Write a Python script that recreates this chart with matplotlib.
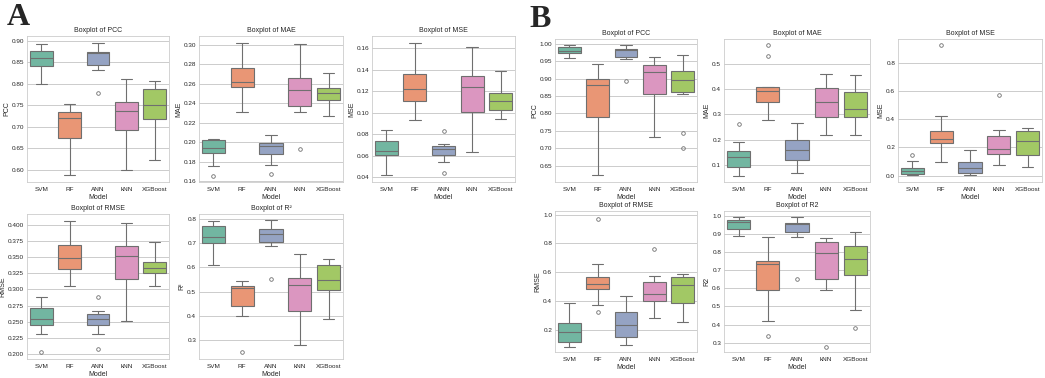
import colorsys

import matplotlib
matplotlib.use("Agg")
import matplotlib.pyplot as plt
import seaborn as sns

models = ["SVM", "RF", "ANN", "kNN", "XGBoost"]

# one row per model: (whisker low, q1, median, q3, whisker high, outliers)
a_pcc = [
    (0.800, 0.842, 0.859, 0.877, 0.892, []),
    (0.588, 0.675, 0.721, 0.735, 0.752, []),
    (0.831, 0.844, 0.871, 0.874, 0.894, [0.778]),
    (0.599, 0.692, 0.738, 0.758, 0.812, []),
    (0.624, 0.718, 0.750, 0.788, 0.807, []),
]
a_mae = [
    (0.175, 0.189, 0.194, 0.2017, 0.203, [0.1655]),
    (0.231, 0.2563, 0.2618, 0.2764, 0.302, []),
    (0.1767, 0.188, 0.196, 0.199, 0.2071, [0.1668]),
    (0.231, 0.2372, 0.2536, 0.2655, 0.3007, [0.1925]),
    (0.2273, 0.2437, 0.2505, 0.2556, 0.2706, []),
]
a_mse = [
    (0.0415, 0.0604, 0.0641, 0.074, 0.0842, []),
    (0.0935, 0.1105, 0.122, 0.1356, 0.165, []),
    (0.0542, 0.0601, 0.0657, 0.0688, 0.0709, [0.083, 0.0437]),
    (0.0632, 0.1006, 0.1235, 0.1346, 0.1615, []),
    (0.0944, 0.1025, 0.1108, 0.118, 0.139, []),
]
a_rmse = [
    (0.2304, 0.2446, 0.2542, 0.2719, 0.2886, [0.2035]),
    (0.3048, 0.3316, 0.3484, 0.3691, 0.4066, []),
    (0.2314, 0.2446, 0.2542, 0.2618, 0.2673, [0.2886, 0.2076]),
    (0.2511, 0.3165, 0.3524, 0.3671, 0.4025, []),
    (0.3058, 0.3261, 0.3327, 0.3428, 0.3732, []),
]
a_r2 = [
    (0.609, 0.700, 0.727, 0.769, 0.793, []),
    (0.400, 0.442, 0.514, 0.522, 0.545, [0.251]),
    (0.688, 0.703, 0.739, 0.759, 0.796, [0.551]),
    (0.280, 0.418, 0.526, 0.555, 0.657, []),
    (0.385, 0.508, 0.548, 0.608, 0.635, []),
]

b_pcc = [
    (0.959, 0.973, 0.979, 0.990, 0.995, []),
    (0.624, 0.789, 0.881, 0.900, 0.942, []),
    (0.956, 0.962, 0.983, 0.985, 0.995, [0.894]),
    (0.732, 0.855, 0.918, 0.9375, 0.962, []),
    (0.856, 0.860, 0.895, 0.922, 0.967, [0.744, 0.701]),
]
b_mae = [
    (0.057, 0.091, 0.131, 0.156, 0.191, [0.260]),
    (0.276, 0.348, 0.392, 0.408, 0.410, [0.532, 0.575]),
    (0.069, 0.121, 0.158, 0.200, 0.264, []),
    (0.219, 0.289, 0.350, 0.403, 0.460, []),
    (0.217, 0.291, 0.320, 0.387, 0.456, []),
]
b_mse = [
    (0.005, 0.014, 0.034, 0.053, 0.105, [0.149]),
    (0.096, 0.230, 0.263, 0.316, 0.426, [0.927]),
    (0.005, 0.019, 0.053, 0.098, 0.182, []),
    (0.077, 0.153, 0.192, 0.278, 0.323, [0.572]),
    (0.062, 0.146, 0.247, 0.319, 0.335, []),
]
b_rmse = [
    (0.078, 0.113, 0.186, 0.244, 0.388, []),
    (0.375, 0.485, 0.515, 0.570, 0.657, [0.322, 0.968]),
    (0.092, 0.152, 0.234, 0.322, 0.437, []),
    (0.283, 0.400, 0.446, 0.529, 0.572, [0.761]),
    (0.257, 0.388, 0.508, 0.570, 0.586, []),
]
b_r2 = [
    (0.890, 0.925, 0.963, 0.978, 0.991, []),
    (0.420, 0.591, 0.733, 0.750, 0.884, [0.335]),
    (0.884, 0.908, 0.952, 0.961, 0.991, [0.654]),
    (0.589, 0.654, 0.797, 0.856, 0.878, [0.278]),
    (0.483, 0.676, 0.764, 0.834, 0.912, [0.381]),
]

W, H = 1045, 378

sns.set_style("whitegrid")
plt.rcParams["font.family"] = ["Liberation Sans", "DejaVu Sans"]

colors = [sns.desaturate(c, 0.75) for c in sns.color_palette("Set2", 5)]
# seaborn-like line gray, a bit lighter to match the downscaled source
lum = min(colorsys.rgb_to_hls(*c)[1] for c in colors) * 0.75
gray = (lum, lum, lum)


def px_axes(fig, x0, x1, y0, y1):
    return fig.add_axes([x0 / W, 1 - y1 / H, (x1 - x0) / W, (y1 - y0) / H])


def draw_box(ax, rows, name, ylim, ylabel=None):
    stats = [
        dict(whislo=r[0], q1=r[1], med=r[2], q3=r[3], whishi=r[4], fliers=r[5])
        for r in rows
    ]
    lp = dict(color=gray, linewidth=0.8)
    parts = ax.bxp(
        stats, positions=range(len(rows)), widths=0.8, patch_artist=True,
        boxprops=dict(edgecolor=gray, linewidth=0.8),
        whiskerprops=lp, capprops=lp, medianprops=lp,
        flierprops=dict(marker="o", markersize=2.6, markerfacecolor="none",
                        markeredgecolor=gray, markeredgewidth=0.6),
    )
    for patch, c in zip(parts["boxes"], colors):
        patch.set_facecolor(c)
    ax.set_xlim(-0.5, len(rows) - 0.5)
    ax.set_ylim(*ylim)
    ax.set_xticks(range(len(rows)))
    ax.set_xticklabels(models)
    ax.grid(axis="x", visible=False)
    ax.grid(axis="y", linewidth=0.7)
    ax.tick_params(axis="x", labelsize=4.6, pad=3.5, length=0)
    ax.tick_params(axis="y", labelsize=4.6, pad=2, length=0)
    ax.set_title(f"Boxplot of {name}", fontsize=5, pad=3)
    ax.set_xlabel("Model", fontsize=5, labelpad=1.5)
    ax.set_ylabel(ylabel or name, fontsize=5, labelpad=1)
    for s in ax.spines.values():
        s.set_linewidth(0.6)


fig = plt.figure(figsize=(W / 100, H / 100), dpi=100)

# panel A
draw_box(px_axes(fig, 27, 169, 36, 182), a_pcc, "PCC", (0.572, 0.911))
draw_box(px_axes(fig, 199, 343, 36, 182), a_mae, "MAE", (0.159, 0.309))
draw_box(px_axes(fig, 372, 515, 36, 182), a_mse, "MSE", (0.0354, 0.1714))
draw_box(px_axes(fig, 27, 169, 214, 359), a_rmse, "RMSE", (0.1924, 0.4167))
draw_box(px_axes(fig, 199, 343, 214, 359), a_r2, "R²", (0.222, 0.82))

# panel B
draw_box(px_axes(fig, 555, 697, 39, 182), b_pcc, "PCC", (0.603, 1.0135))
draw_box(px_axes(fig, 724, 870, 39, 182), b_mae, "MAE", (0.032, 0.599))
draw_box(px_axes(fig, 898, 1042, 39, 182), b_mse, "MSE", (-0.046, 0.972))
draw_box(px_axes(fig, 555, 697, 211, 352), b_rmse, "RMSE", (0.046, 1.025))
draw_box(px_axes(fig, 724, 870, 211, 352), b_r2, "R2", (0.249, 1.026))

fig.text(7 / W, 1 - 25 / H, "A", fontsize=23, fontweight="bold",
         family="Liberation Serif", ha="left", va="baseline")
fig.text(529 / W, 1 - 27 / H, "B", fontsize=23, fontweight="bold",
         family="Liberation Serif", ha="left", va="baseline")

fig.savefig("out.png", dpi=100)
